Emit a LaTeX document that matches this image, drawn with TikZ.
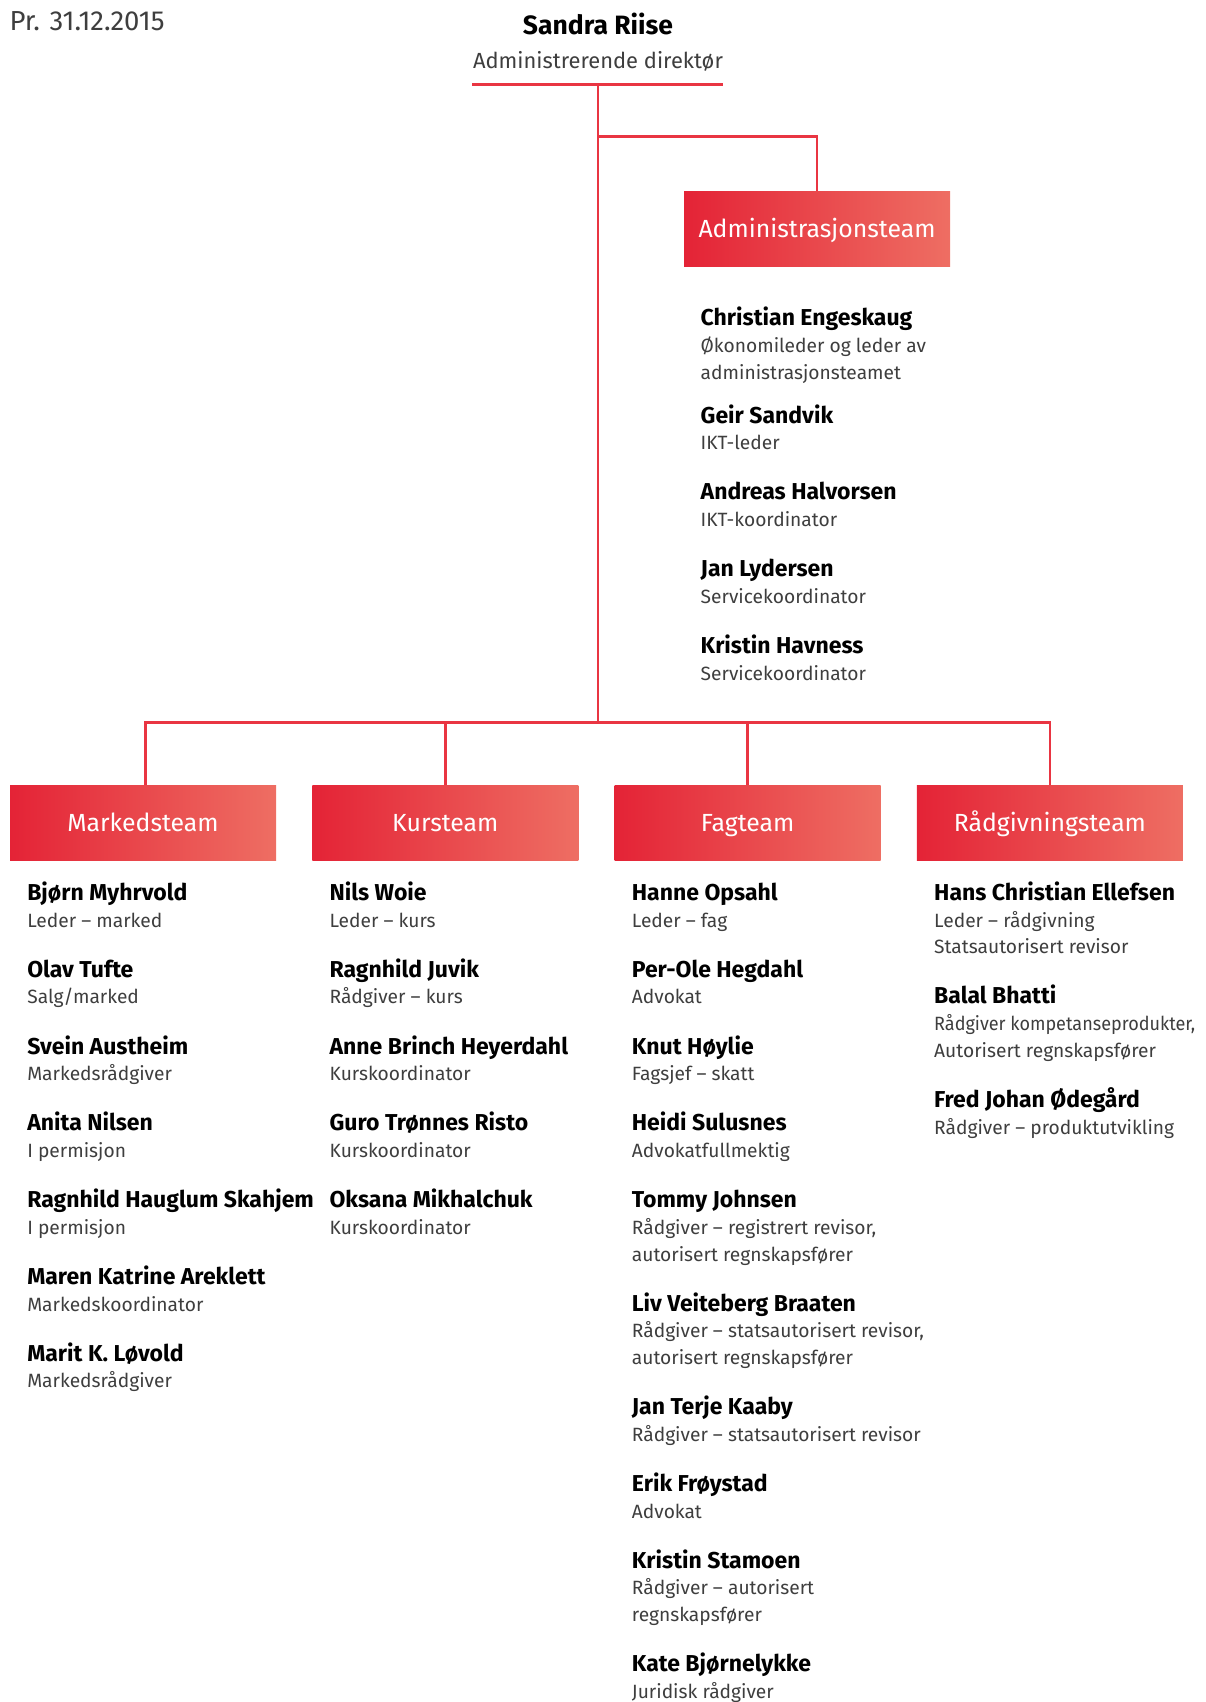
\documentclass[tikz,border=0pt]{standalone}
\usepackage{fontspec}
\setmainfont{Fira Sans}
\newfontfamily\narrowsub[FakeStretch=0.94]{Fira Sans}
\usetikzlibrary{positioning}
\definecolor{orgred}{RGB}{233,53,66}
\definecolor{boxleft}{RGB}{228,35,54}
\definecolor{boxright}{RGB}{238,110,99}
\definecolor{subgrey}{RGB}{62,62,62}
\newcommand{\ls}{\rule[-6.7pt]{0pt}{26.7pt}}
\newcommand{\namefont}{\fontsize{23}{26.7}\selectfont\bfseries\color{black}}
\newcommand{\nm}[1]{\ls{\namefont #1}}
\newcommand{\subfont}{\fontsize{19.2}{26.7}\selectfont}
\tikzset{
    teambox/.style = {rectangle, minimum width=266pt,
        minimum height=75pt, inner sep=0pt,
        left color=boxleft, right color=boxright, text=white,
        font=\fontsize{24.8}{30}\selectfont, text height=18pt, text depth=0pt},
    person/.style = {align=left, inner sep=0pt, font=\subfont, text=subgrey},
    orgline/.style = {draw=orgred, line width=2.8pt}
}
\begin{document}
\begin{tikzpicture}[x=1pt, y=-1pt, node distance=302.3pt]
        \useasboundingbox (0,0) rectangle (1205,1702);
        \node [anchor=base west, font=\fontsize{27.5}{30}\selectfont, text=subgrey] (date) at (6,31) {Pr. 31.12.2015};
        \node [anchor=base, font=\fontsize{26.5}{30}\selectfont\bfseries] (ceo) at (598,35) {Sandra Riise};
        \node [anchor=base, font=\fontsize{21.9}{28}\selectfont, text=subgrey] (ceotitle) at (598,68.3) {Administrerende direktør};
        \coordinate (ul) at (472,84.3);
        \coordinate (ur) at (723,84.3);
        \coordinate (top) at (598,84.3);
        \coordinate (abranch) at (598,136.7);
        \coordinate (bus) at (598,722.7);
        \draw[orgline] (ul) -- (ur);
        \draw[orgline] (top) -- (bus);
        \node [teambox] (adm) at (817,228.7) {Administrasjonsteam};
        \draw[orgline] (abranch) -| (adm.north);
        \node [teambox] (mkt) at (143,822.5) {Markedsteam};
        \node [teambox, right of=mkt] (kur) {Kursteam};
        \node [teambox, right of=kur] (fag) {Fagteam};
        \node [teambox, right of=fag] (rad) {Rådgivningsteam};
        \draw[orgline] ([xshift=2.7pt]mkt.north) |- (bus) -| (rad.north);
        \draw[orgline] (kur.north) -- (kur.north |- bus);
        \draw[orgline] (fag.north) -- (fag.north |- bus);
        % administrasjon
        \node [person, below right=39.3pt and 16.7pt of adm.south west] (a1) {\nm{Christian Engeskaug}\\\ls Økonomileder og leder av\\\ls administrasjonsteamet};
        \node [person, below right=16.7pt and 0pt of a1.south west] (a2) {\nm{Geir Sandvik}\\\ls IKT-leder};
        \node [person, below right=23pt and 0pt of a2.south west] (a3) {\nm{Andreas Halvorsen}\\\ls IKT-koordinator};
        \node [person, below right=23pt and 0pt of a3.south west] (a4) {\nm{Jan Lydersen}\\\ls Servicekoordinator};
        \node [person, below right=23pt and 0pt of a4.south west] (a5) {\nm{Kristin Havness}\\\ls Servicekoordinator};
        % marked
        \node [person, below right=20pt and 17.3pt of mkt.south west] (m1) {\nm{Bjørn Myhrvold}\\\ls Leder – marked};
        \node [person, below right=23pt and 0pt of m1.south west] (m2) {\nm{Olav Tufte}\\\ls Salg/marked};
        \node [person, below right=23pt and 0pt of m2.south west] (m3) {\nm{Svein Austheim}\\\ls Markedsrådgiver};
        \node [person, below right=23pt and 0pt of m3.south west] (m4) {\nm{Anita Nilsen}\\\ls I permisjon};
        \node [person, below right=23pt and 0pt of m4.south west] (m5) {\nm{Ragnhild Hauglum Skahjem}\\\ls I permisjon};
        \node [person, below right=23pt and 0pt of m5.south west] (m6) {\nm{Maren Katrine Areklett}\\\ls Markedskoordinator};
        \node [person, below right=23pt and 0pt of m6.south west] (m7) {\nm{Marit K. Løvold}\\\ls Markedsrådgiver};
        % kurs
        \node [person, below right=20pt and 17.3pt of kur.south west] (k1) {\nm{Nils Woie}\\\ls Leder – kurs};
        \node [person, below right=23pt and 0pt of k1.south west] (k2) {\nm{Ragnhild Juvik}\\\ls Rådgiver – kurs};
        \node [person, below right=23pt and 0pt of k2.south west] (k3) {\nm{Anne Brinch Heyerdahl}\\\ls Kurskoordinator};
        \node [person, below right=23pt and 0pt of k3.south west] (k4) {\nm{Guro Trønnes Risto}\\\ls Kurskoordinator};
        \node [person, below right=23pt and 0pt of k4.south west] (k5) {\nm{Oksana Mikhalchuk}\\\ls Kurskoordinator};
        % fag
        \node [person, below right=20pt and 17.3pt of fag.south west] (f1) {\nm{Hanne Opsahl}\\\ls Leder – fag};
        \node [person, below right=23pt and 0pt of f1.south west] (f2) {\nm{Per-Ole Hegdahl}\\\ls Advokat};
        \node [person, below right=23pt and 0pt of f2.south west] (f3) {\nm{Knut Høylie}\\\ls Fagsjef – skatt};
        \node [person, below right=23pt and 0pt of f3.south west] (f4) {\nm{Heidi Sulusnes}\\\ls Advokatfullmektig};
        \node [person, below right=23pt and 0pt of f4.south west] (f5) {\nm{Tommy Johnsen}\\\ls Rådgiver – registrert revisor,\\\ls autorisert regnskapsfører};
        \node [person, below right=23pt and 0pt of f5.south west] (f6) {\nm{Liv Veiteberg Braaten}\\\ls Rådgiver – statsautorisert revisor,\\\ls autorisert regnskapsfører};
        \node [person, below right=23pt and 0pt of f6.south west] (f7) {\nm{Jan Terje Kaaby}\\\ls Rådgiver – statsautorisert revisor};
        \node [person, below right=23pt and 0pt of f7.south west] (f8) {\nm{Erik Frøystad}\\\ls Advokat};
        \node [person, below right=23pt and 0pt of f8.south west] (f9) {\nm{Kristin Stamoen}\\\ls Rådgiver – autorisert\\\ls regnskapsfører};
        \node [person, below right=23pt and 0pt of f9.south west] (f10) {\nm{Kate Bjørnelykke}\\\ls Juridisk rådgiver};
        % raadgivning
        \node [person, below right=20pt and 17.3pt of rad.south west] (r1) {\nm{Hans Christian Ellefsen}\\\ls Leder – rådgivning\\\ls Statsautorisert revisor};
        \node [person, below right=23pt and 0pt of r1.south west] (r2) {\nm{Balal Bhatti}\\\ls{\narrowsub Rådgiver kompetanseprodukter,}\\\ls Autorisert regnskapsfører};
        \node [person, below right=23pt and 0pt of r2.south west] (r3) {\nm{Fred Johan Ødegård}\\\ls Rådgiver – produktutvikling};
\end{tikzpicture}
\end{document}
